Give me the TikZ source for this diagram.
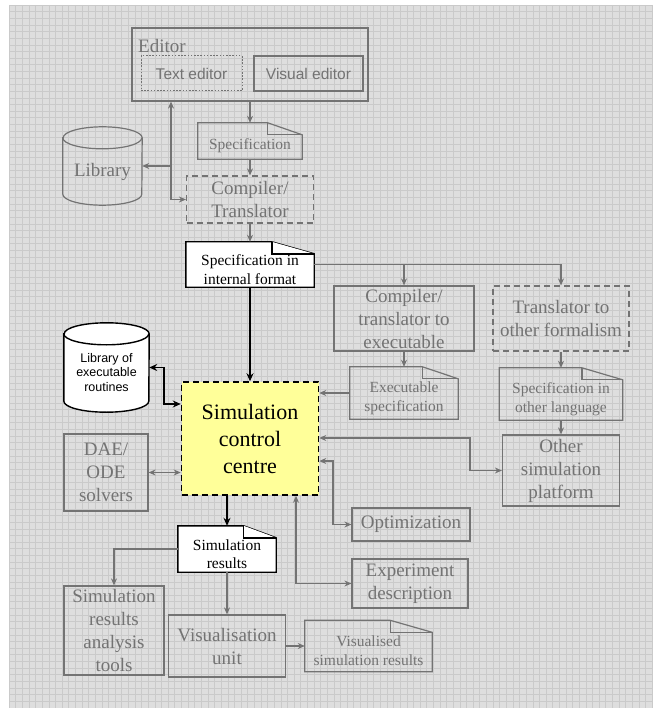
\documentclass[tikz,border=0pt]{standalone}
\usepackage{fontspec}
\setmainfont{Liberation Serif}
\setsansfont{Liberation Sans}
\usetikzlibrary{arrows.meta,calc}
\definecolor{fadegray}{RGB}{115,115,115}
\definecolor{gridbg}{RGB}{222,222,222}
\definecolor{gridln}{RGB}{202,202,202}
\definecolor{simyellow}{RGB}{255,255,153}
\pgfdeclarelayer{gridlayer}
\pgfdeclarelayer{shapelayer}
\pgfsetlayers{gridlayer,shapelayer,main}
\tikzset{
  sz/.style 2 args={minimum width=#1pt, minimum height=#2pt},
  gbox/.style={draw=fadegray, line width=1.2pt, text=fadegray, align=center, inner sep=0pt, font=\rmfamily\fontsize{19}{23}\selectfont},
  gdash/.style={gbox, dash pattern=on 6pt off 4pt},
  sansbox/.style={gbox, font=\sffamily\fontsize{15.5}{18}\selectfont},
  shapebox/.style={inner sep=0pt},
  gdoctxt/.style={text=fadegray, align=center, yshift=-5pt, font=\rmfamily\fontsize{15.5}{19}\selectfont},
  bdoctxt/.style={text=black, align=center, yshift=-5pt, font=\rmfamily\fontsize{15.5}{18.5}\selectfont},
  gline/.style={draw=fadegray, line width=1.2pt},
  bline/.style={draw=black, fill=white, line width=1.4pt},
  simbox/.style={draw=black, fill=simyellow, line width=1.5pt, dash pattern=on 6pt off 4pt, align=center, inner sep=0pt, font=\rmfamily\fontsize{22}{27}\selectfont},
  garrow/.style={draw=fadegray, line width=1.3pt, >={Stealth[length=7pt,width=6pt]}},
  barrow/.style={draw=black, line width=1.8pt, >={Stealth[length=8pt,width=7pt]}}
}
\begin{document}
\begin{tikzpicture}[x=1pt,y=-1pt]
  \useasboundingbox (0,0) rectangle (652,708);
  \begin{pgfonlayer}{gridlayer}
    \fill[gridbg] (9,5) rectangle (652,708);
    \foreach \i in {0,...,97} \draw[gridln, line width=0.55pt] ({9+6.63*\i},5) -- ({9+6.63*\i},708);
    \foreach \j in {0,...,106} \draw[gridln, line width=0.55pt] (9,{5+6.63*\j}) -- (652,{5+6.63*\j});
  \end{pgfonlayer}

  \node[gbox, sz={236}{73}] (editor) at (250,64.5) {};
  \node[text=fadegray, anchor=west, inner sep=0pt, font=\rmfamily\fontsize{19}{23}\selectfont] (editorlbl) at (138,46) {Editor};
  \node[sansbox, sz={101}{35}, line width=1pt, dash pattern=on 1.6pt off 1.6pt] (texted) at (191.5,73.5) {Text editor};
  \node[sansbox, sz={109}{35}] (vised) at (308.5,73.5) {Visual editor};
  \node[shapebox, sz={104}{36}, label={[gdoctxt]center:Specification}] (spec) at (250,141) {};
  \node[shapebox, sz={79}{78}, label={[gdoctxt, yshift=-1pt, font=\rmfamily\fontsize{19}{23}\selectfont]center:Library}] (lib) at (102.5,166) {};
  \node[gdash, sz={127}{47}] (comp) at (250,199.5) {Compiler/\\Translator};
  \node[shapebox, sz={128}{45}, label={[bdoctxt]center:Specification in\\internal format}] (specint) at (250,264.5) {};
  \node[gbox, sz={140}{65}] (compexe) at (404,318.5) {Compiler/\\translator to\\executable};
  \node[gdash, sz={136}{65}] (transl) at (561,318.5) {Translator to\\other formalism};
  \node[shapebox, sz={85}{89}, label={[bdoctxt, font=\sffamily\fontsize{12.5}{14.5}\selectfont]center:Library of\\executable\\routines}] (exelib) at (106.5,367.5) {};
  \node[simbox, sz={137}{113}] (sim) at (250,438.5) {Simulation\\control\\centre};
  \node[shapebox, sz={108}{52}, label={[gdoctxt]center:Executable\\specification}] (exespec) at (404,393) {};
  \node[shapebox, sz={123}{52}, label={[gdoctxt]center:Specification in\\other language}] (othspec) at (561,394) {};
  \node[gbox, sz={117}{71}] (othsim) at (561,470.5) {Other\\simulation\\platform};
  \node[gbox, sz={84}{77}] (dae) at (106,472.5) {DAE/\\ODE\\solvers};
  \node[gbox, sz={118}{33}] (optim) at (411,524.5) {Optimization};
  \node[shapebox, sz={98}{46}, label={[bdoctxt]center:Simulation\\results}] (simres) at (227,549) {};
  \node[gbox, sz={116}{49}] (expdesc) at (410,583.5) {Experiment\\description};
  \node[gbox, sz={100}{89}] (analysis) at (114,630.5) {Simulation\\results\\analysis\\tools};
  \node[gbox, sz={117}{62}] (visunit) at (227,646) {Visualisation\\unit};
  \node[shapebox, sz={127}{51}, label={[gdoctxt]center:Visualised\\simulation results}] (visres) at (368.5,646) {};

  \begin{pgfonlayer}{shapelayer}
    \foreach \n/\s in {spec/gline, exespec/gline, othspec/gline, visres/gline, specint/bline, simres/bline} {
      \coordinate (f1) at ($(\n.north east)!0.33!(\n.north west)$);
      \coordinate (f2) at ([yshift=-12pt]\n.north east);
      \draw[\s] (\n.south west) -- (\n.north west) -- (f1) -- (f2) -- (\n.south east) -- cycle;
      \draw[\s] (f1) |- (f2);
    }
    \foreach \n/\rx/\s in {lib/39.5/gline, exelib/42.5/bline} {
      \draw[\s] ([yshift=-11pt]\n.north west) -- ([yshift=11pt]\n.south west)
        arc[start angle=180, end angle=360, x radius=\rx pt, y radius=11pt]
        -- ([yshift=-11pt]\n.north east)
        arc[start angle=0, end angle=180, x radius=\rx pt, y radius=11pt] -- cycle;
      \draw[\s, fill=none] ([yshift=-11pt]\n.north west)
        arc[start angle=180, end angle=360, x radius=\rx pt, y radius=11pt];
    }
  \end{pgfonlayer}

  \coordinate (tap) at (171,166);
  \coordinate (j1) at (470,438);
  \coordinate (j2) at (333,461);
  \coordinate (j3) at (296,584);
  \coordinate (j4) at (164,404);

  \draw[garrow, ->] (editor.south) -- (spec.north);
  \draw[garrow, ->] (spec.south) -- (comp.north);
  \draw[garrow, ->] (comp.south) -- (specint.north);
  \draw[garrow, <->] (tap |- editor.south) -- (tap |- comp.west) -- (comp.west);
  \draw[garrow, ->] (tap) -- (lib.east);
  \draw[garrow, ->] (specint.east) -| (compexe.north);
  \draw[garrow, ->] (specint.east) -| (transl.north);
  \draw[garrow, ->] (compexe.south) -- (exespec.north);
  \draw[garrow, ->] (transl.south) -- (othspec.north);
  \draw[garrow, ->] (othspec.south) -- (othsim.north);
  \draw[garrow, ->] (exespec.west) -- (exespec.west -| sim.east);
  \draw[garrow, <->] (sim.east |- j1) -- (j1) |- (othsim.west);
  \draw[garrow, <->] (sim.east |- j2) -- (j2) |- (optim.west);
  \draw[garrow, <->] (sim.south -| j3) |- (expdesc.west);
  \draw[garrow, <->] (dae.east) -- (dae.east -| sim.west);
  \draw[garrow, ->] (simres.west) -| (analysis.north);
  \draw[garrow, ->] (simres.south) -- (visunit.north);
  \draw[garrow, ->] (visunit.east) -- (visres.west);
  \draw[barrow, ->] (specint.south) -- (sim.north);
  \draw[barrow, ->] (sim.south -| simres.north) -- (simres.north);
  \draw[barrow, <->] (exelib.east) -| (j4) -- (j4 -| sim.west);
\end{tikzpicture}
\end{document}
